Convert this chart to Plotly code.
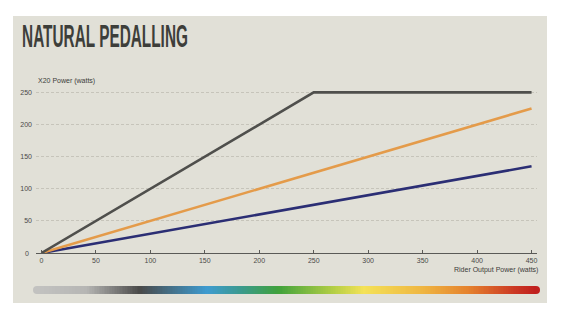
import numpy as np
import plotly.graph_objects as go

W, H = 565, 325

# Rider output power (x) against X20 power (y) for three assist curves
rider_power_high = [0, 250, 450]
x20_power_high = [0, 250, 250]
rider_power_mid = [0, 450]
x20_power_mid = [0, 225]
rider_power_low = [0, 450]
x20_power_low = [0, 135]

x_ticks = [0, 50, 100, 150, 200, 250, 300, 350, 400, 450]
y_ticks = [0, 50, 100, 150, 200, 250]

# Colour ramp of the effort bar under the chart
ramp_stops = [
    (0.000, "#c2c2c0"),
    (0.097, "#b6b6b4"),
    (0.205, "#4a4a49"),
    (0.340, "#3e9bd0"),
    (0.410, "#3b9a8c"),
    (0.483, "#40a23c"),
    (0.596, "#b5cf45"),
    (0.655, "#f4e257"),
    (0.773, "#efb642"),
    (0.866, "#e5822e"),
    (0.957, "#cc3a24"),
    (1.000, "#c0201e"),
]


def px_x(p):
    return p / W


def px_y(p):
    return 1 - p / H


fig = go.Figure()

fig.add_trace(go.Scatter(x=rider_power_low, y=x20_power_low, mode="lines",
                         line=dict(color="#2b2e74", width=2.6), hoverinfo="skip"))
fig.add_trace(go.Scatter(x=rider_power_mid, y=x20_power_mid, mode="lines",
                         line=dict(color="#e49b4a", width=2.6), hoverinfo="skip"))
fig.add_trace(go.Scatter(x=rider_power_high, y=x20_power_high, mode="lines",
                         line=dict(color="#4f4f4c", width=2.6), hoverinfo="skip"))

# Gradient bar drawn as a one-row heatmap on its own axes
ramp_z = [list(np.linspace(0, 1, 300))]
fig.add_trace(go.Heatmap(z=ramp_z, colorscale=[[s, c] for s, c in ramp_stops],
                         showscale=False, xaxis="x2", yaxis="y2", hoverinfo="skip"))

tick_font = dict(family="Liberation Sans, Arial, sans-serif", size=7, color="#4a4a48")
grid_col = "#c6c4ba"

fig.update_layout(
    width=W, height=H,
    margin=dict(l=0, r=0, t=0, b=0),
    paper_bgcolor="white",
    plot_bgcolor="rgba(0,0,0,0)",
    showlegend=False,
    xaxis=dict(
        domain=[px_x(36), px_x(537)], range=[-5, 455],
        tickvals=x_ticks, ticktext=[str(v) for v in x_ticks],
        showgrid=False, zeroline=False,
        showline=True, linecolor="#5a5a57", linewidth=1.2,
        ticks="inside", ticklen=3, tickcolor="#5a5a57", tickwidth=1,
        tickfont=tick_font, anchor="y",
    ),
    yaxis=dict(
        domain=[px_y(253), px_y(86)], range=[0, 260],
        tickvals=y_ticks[1:], ticktext=[str(v) for v in y_ticks[1:]],
        showgrid=True, gridcolor=grid_col, gridwidth=1, griddash="3px,2px",
        zeroline=False, showline=False, ticks="",
        tickfont=tick_font, ticklabelstandoff=3, anchor="x",
    ),
    xaxis2=dict(domain=[px_x(37), px_x(536)], visible=False, anchor="y2",
                range=[-0.5, 299.5]),
    yaxis2=dict(domain=[px_y(294), px_y(286)], visible=False, anchor="x2",
                range=[-0.5, 0.5]),
)

shapes = [
    # beige panel behind the chart
    dict(type="rect", xref="paper", yref="paper", x0=px_x(13), x1=px_x(547),
         y0=px_y(303), y1=px_y(16), fillcolor="#e1e0d7", line=dict(width=0),
         layer="below"),
]
# rounded caps at both ends of the gradient bar
for cx, col in [(37, ramp_stops[0][1]), (536, ramp_stops[-1][1])]:
    shapes.append(dict(type="circle", xref="paper", yref="paper",
                       xsizemode="pixel", ysizemode="pixel",
                       xanchor=px_x(cx), yanchor=px_y(290),
                       x0=-4, x1=4, y0=-4, y1=4,
                       fillcolor=col, line=dict(width=0), layer="below"))
fig.update_layout(shapes=shapes)

# the "0" label sits beside the axis line
annotations = [
    dict(text="0", x=px_x(31), y=px_y(253), xref="paper", yref="paper",
         xanchor="right", yanchor="middle", showarrow=False, font=tick_font),
    dict(text="X20 Power (watts)", x=px_x(36), y=px_y(81), xref="paper", yref="paper",
         xanchor="left", yanchor="middle", showarrow=False,
         font=dict(family="Liberation Sans, Arial, sans-serif", size=7, color="#3c3c3a")),
    dict(text="Rider Output Power (watts)", x=px_x(540), y=px_y(270), xref="paper",
         yref="paper", xanchor="right", yanchor="middle", showarrow=False,
         font=dict(family="Liberation Sans, Arial, sans-serif", size=7, color="#3c3c3a")),
    dict(text="NATURAL PEDALLING", x=px_x(20), y=px_y(37), xref="paper", yref="paper",
         xanchor="left", yanchor="middle", showarrow=False,
         font=dict(family="Liberation Sans Narrow, Liberation Sans, Arial, sans-serif",
                   size=31, color="#3d3e3a", weight="bold")),
]
fig.update_layout(annotations=annotations)

# squeeze the heading horizontally into a condensed look
post = """
var gd = document.getElementById('{plot_id}');
gd.querySelectorAll('.annotation-text').forEach(function(t){
  if (t.textContent === 'NATURAL PEDALLING') {
    t.removeAttribute('transform');
    var b = t.getBBox();
    var sx = 166 / b.width;
    t.setAttribute('transform', 'translate(' + b.x + ',0) scale(' + sx + ',1) translate(' + (-b.x) + ',0)');
  }
});
"""

fig.write_html("out.html", post_script=post)
